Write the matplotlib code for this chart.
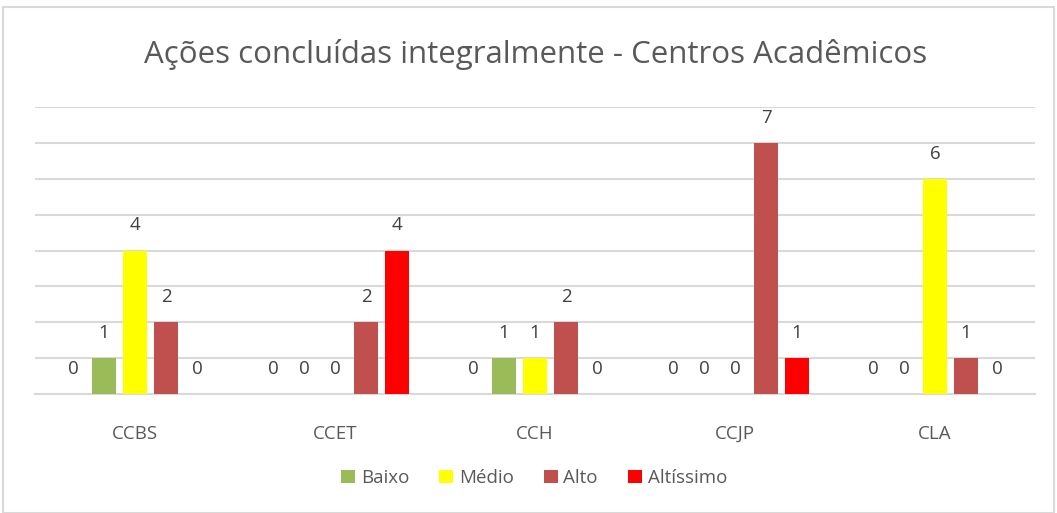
import matplotlib
matplotlib.use("Agg")
import matplotlib.pyplot as plt
import numpy as np
from matplotlib.patches import Rectangle

categories = ["CCBS", "CCET", "CCH", "CCJP", "CLA"]
series_names = ["Nenhum", "Baixo", "Médio", "Alto", "Altíssimo"]
nenhum = [0, 0, 0, 0, 0]
baixo = [1, 0, 1, 0, 0]
medio = [4, 0, 1, 0, 6]
alto = [2, 2, 2, 7, 1]
altissimo = [0, 4, 0, 1, 0]
series_values = [nenhum, baixo, medio, alto, altissimo]
colors = ["#4F81BD", "#9BBB59", "#FFFF00", "#C0504D", "#FF0000"]
show_in_legend = [False, True, True, True, True]

plt.rcParams['font.family'] = ['Open Sans', 'DejaVu Sans']

fig = plt.figure(figsize=(10.57, 5.13), dpi=100)
fig.patches.append(Rectangle((3/1057, 0), 1 - 6/1057, 1 - 7/513, transform=fig.transFigure,
                             fill=False, edgecolor="#d9d9d9", linewidth=1.5))

ax = fig.add_axes([35/1057, 1 - 394/513, 1000/1057, (394 - 107)/513])
x = np.arange(len(categories))
offset = 0.155
width = 0.12
for i, (name, vals, c, leg) in enumerate(zip(series_names, series_values, colors, show_in_legend)):
    pos = x + (i - 2) * offset
    ax.bar(pos, vals, width=width, color=c, label=name if leg else "_nolegend_", zorder=3)
    for p, v in zip(pos, vals):
        ax.text(p, v + 0.45, str(v), ha="center", va="bottom", fontsize=13.5, color="#404040")

ax.set_xlim(-0.5, len(categories) - 0.5)
ax.set_ylim(0, 8)
ax.set_yticks(range(0, 9))
ax.yaxis.grid(True, color="#d9d9d9", linewidth=1.5, zorder=0)
ax.set_yticklabels([])
ax.tick_params(axis="y", length=0)
ax.set_xticks(x)
ax.set_xticklabels(categories, fontsize=13.5, color="#595959")
ax.tick_params(axis="x", length=0, pad=22)
for s in ["top", "right", "left"]:
    ax.spines[s].set_visible(False)
ax.spines["bottom"].set_color("#d9d9d9")
ax.spines["bottom"].set_linewidth(1.5)

fig.text(536/1057, 1 - 55/513, "Ações concluídas integralmente - Centros Acadêmicos",
         ha="center", va="center", fontsize=22.5, color="#595959")

handles, labels = ax.get_legend_handles_labels()
fig.legend(handles, labels, loc="center", bbox_to_anchor=(534/1057, 1 - 478/513), ncol=4,
           frameon=False, fontsize=13.5, labelcolor="#595959", handlelength=0.75, handleheight=0.75,
           handletextpad=0.3, columnspacing=1.6)

fig.savefig("out.png", dpi=100)
